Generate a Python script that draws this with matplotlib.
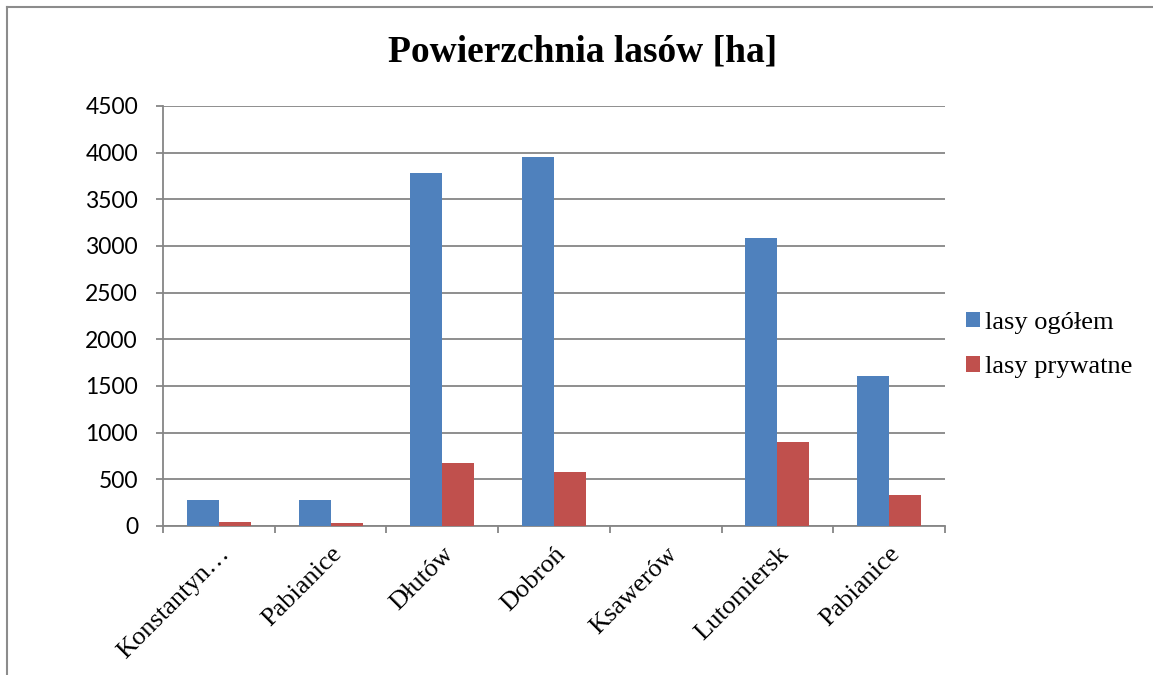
import matplotlib
matplotlib.use("Agg")
import matplotlib.pyplot as plt
from matplotlib.lines import Line2D
import numpy as np

categories = ["Konstantyn…", "Pabianice", "Dłutów", "Dobroń", "Ksawerów", "Lutomiersk", "Pabianice"]
lasy_ogolem = [280, 280, 3780, 3950, 0, 3085, 1605]
lasy_prywatne = [42, 33, 675, 580, 0, 905, 333]
series_names = ["lasy ogółem", "lasy prywatne"]
yticks = [0, 500, 1000, 1500, 2000, 2500, 3000, 3500, 4000, 4500]
title = "Powierzchnia lasów [ha]"

W, H = 1153, 675
fig = plt.figure(figsize=(W / 100, H / 100), dpi=100)
fig.patch.set_facecolor("white")

# outer chart frame (left and top visible)
fig.add_artist(Line2D([7 / W, 7 / W], [0, 1 - 7 / H], transform=fig.transFigure,
                      color="#8c8c8c", lw=1.5))
fig.add_artist(Line2D([7 / W, 1.0], [1 - 7 / H, 1 - 7 / H], transform=fig.transFigure,
                      color="#8c8c8c", lw=1.5))

x0, x1 = 163, 945
y_top, y_bot = 106, 526
ax = fig.add_axes([x0 / W, 1 - y_bot / H, (x1 - x0) / W, (y_bot - y_top) / H])

n = len(categories)
x = np.arange(n)
bw = 0.286
blue = "#4F81BD"
red = "#C0504D"
ax.bar(x - bw / 2, lasy_ogolem, width=bw, color=blue, label=series_names[0], zorder=3)
ax.bar(x + bw / 2, lasy_prywatne, width=bw, color=red, label=series_names[1], zorder=3)

ax.set_xlim(-0.5, n - 0.5)
ax.set_ylim(0, 4500)
ax.set_yticks(yticks)
ax.set_yticklabels([str(v) for v in yticks], fontfamily="Lato", fontsize=16.5)
ax.yaxis.grid(True, color="#868686", lw=1.3, zorder=0)
ax.set_axisbelow(True)

gray = "#868686"
for s in ["top", "right"]:
    ax.spines[s].set_visible(False)
ax.spines["left"].set_color(gray)
ax.spines["bottom"].set_color(gray)
ax.spines["left"].set_linewidth(1.3)
ax.spines["bottom"].set_linewidth(1.3)
ax.tick_params(axis="y", length=5, width=1.3, color=gray, pad=13)

# x ticks at category boundaries
ax.set_xticks(np.arange(-0.5, n, 1.0))
ax.set_xticklabels([])
ax.tick_params(axis="x", length=5, width=1.3, color=gray, direction="out")
ax.set_xticks(x, minor=True)
ax.set_xticklabels(categories, minor=True, rotation=45, ha="right", va="top",
                   rotation_mode="anchor", fontfamily="Liberation Serif", fontsize=19)
ax.tick_params(axis="x", which="minor", length=0, pad=12)

fig.text(583 / W, 1 - 52 / H, title, ha="center", va="center",
         fontfamily="Liberation Serif", fontweight="bold", fontsize=27)

leg = ax.legend(loc="center left", bbox_to_anchor=(953 / W, 1 - 345 / H),
                bbox_transform=fig.transFigure, frameon=False, borderpad=0,
                prop={"family": "Liberation Serif", "size": 19},
                handlelength=0.53, handleheight=0.53, handletextpad=0.2,
                labelspacing=0.86)

fig.savefig("out.png", dpi=100, facecolor="white")
